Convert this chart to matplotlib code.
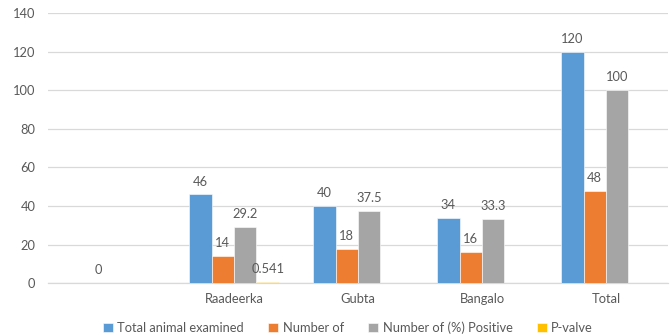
import numpy as np
import matplotlib
matplotlib.use("Agg")
import matplotlib.pyplot as plt

plt.rcParams['font.family'] = ['Lato', 'DejaVu Sans']

categories = ["", "Raadeerka", "Gubta", "Bangalo", "Total"]
series_names = ["Total animal examined", "Number of", "Number of (%) Positive", "P-valve"]
total_examined = [np.nan, 46, 40, 34, 120]
number_of = [0, 14, 18, 16, 48]
pct_positive = [np.nan, 29.2, 37.5, 33.3, 100]
p_valve = [np.nan, 0.541, np.nan, np.nan, np.nan]
colors = ["#5B9BD5", "#ED7D31", "#A5A5A5", "#FFC000"]

series = [total_examined, number_of, pct_positive, p_valve]
text_color = "#595959"
fs = 9.3

fig = plt.figure(figsize=(6.72, 3.36), dpi=100)
ax = fig.add_axes([0.0714, 0.157, 0.9226, 0.804])

x = np.arange(len(categories))
width = 0.181
offsets = (np.arange(4) - 1.5) * width

for vals, name, col, off in zip(series, series_names, colors, offsets):
    v = np.array(vals, dtype=float)
    ax.bar(x + off, np.nan_to_num(v), width, color=col, label=name,
           edgecolor="white", linewidth=0.4, zorder=3)
    for xi, val in zip(x + off, v):
        if np.isnan(val):
            continue
        ax.annotate(f"{val:g}", (xi, val), xytext=(0, 5), textcoords="offset points",
                    ha="center", va="bottom", fontsize=fs, color=text_color)

ax.set_xlim(-0.5, len(categories) - 0.5)
ax.set_ylim(0, 140)
ax.set_yticks(np.arange(0, 141, 20))
ax.set_xticks(x)
ax.set_xticklabels(categories)
ax.tick_params(axis="both", length=0, labelsize=fs, colors=text_color)
ax.tick_params(axis="y", pad=9)
ax.tick_params(axis="x", pad=7)
ax.grid(axis="y", color="#D9D9D9", linewidth=0.9, zorder=0)
for s in ["left", "right", "top"]:
    ax.spines[s].set_visible(False)
ax.spines["bottom"].set_color("#D9D9D9")
ax.spines["bottom"].set_linewidth(0.9)

fig.legend(loc="lower center", bbox_to_anchor=(0.518, -0.028), ncol=4, frameon=False,
           fontsize=fs, labelcolor=text_color, handlelength=0.75, handleheight=0.75,
           handletextpad=0.35, columnspacing=1.9)

fig.savefig("out.png", dpi=100)
